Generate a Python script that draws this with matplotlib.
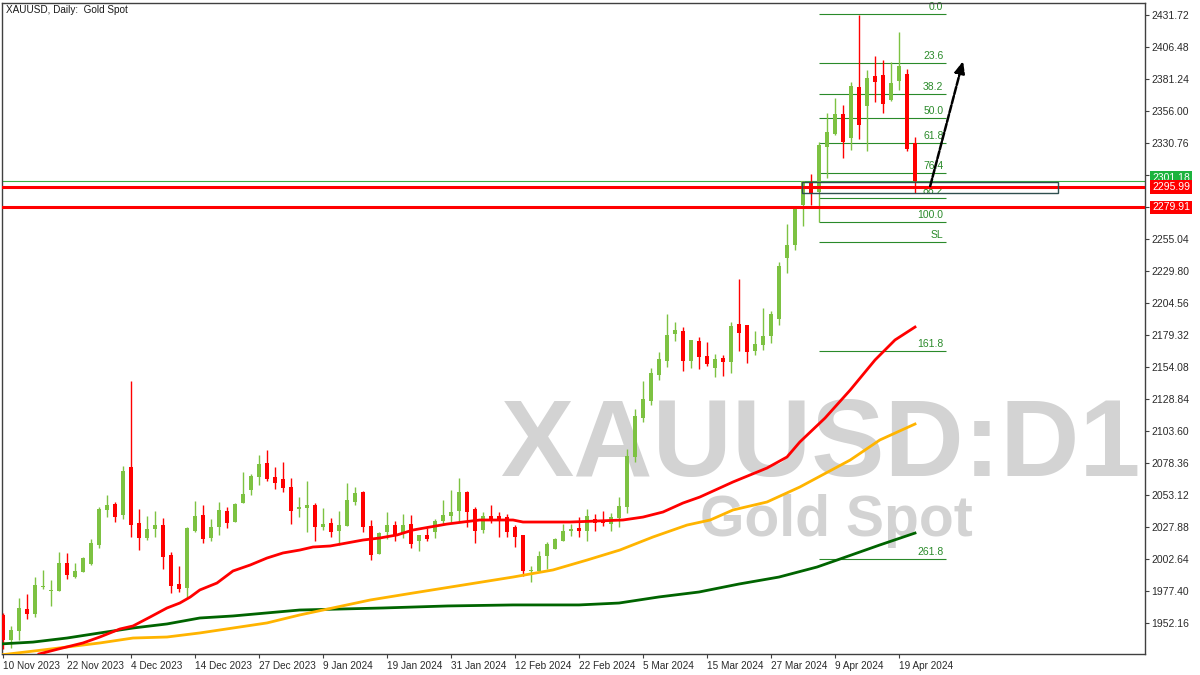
import matplotlib
matplotlib.use("Agg")
import matplotlib.pyplot as plt
from matplotlib.patches import Rectangle

# ---------------- data ----------------
tick_index = [0, 8, 16, 24, 32, 40, 48, 56, 64, 72, 80, 88, 96, 104, 112]
tick_labels = ['10 Nov 2023', '22 Nov 2023', '4 Dec 2023', '14 Dec 2023', '27 Dec 2023',
               '9 Jan 2024', '19 Jan 2024', '31 Jan 2024', '12 Feb 2024', '22 Feb 2024',
               '5 Mar 2024', '15 Mar 2024', '27 Mar 2024', '9 Apr 2024', '19 Apr 2024']

opens = [1958.4, 1938.7, 1945.8, 1963.0, 1959.2, 1980.6, 1977.0, 1977.4, 1999.5, 1988.4,
         1992.4, 1998.7, 2013.7, 2041.3, 2046.1, 2037.3, 2075.2, 2031.0, 2019.2, 2026.3,
         2029.4, 2005.8, 1982.9, 1979.7, 2024.7, 2037.3, 2019.2, 2027.9, 2040.5, 2031.8,
         2046.8, 2057.0, 2067.3, 2078.4, 2067.3, 2065.7, 2059.4, 2042.1, 2042.8, 2045.3,
         2027.9, 2031.0, 2024.7, 2028.7, 2047.6, 2055.5, 2028.7, 2006.6, 2023.9, 2029.4,
         2022.4, 2030.2, 2016.5, 2021.2, 2023.9, 2032.6, 2036.5, 2040.5, 2055.5, 2042.1,
         2025.5, 2036.5, 2036.5, 2035.7, 2027.9, 2021.2, 1992.8, 1993.2, 2005.0, 2010.5,
         2016.8, 2024.7, 2027.1, 2024.7, 2034.1, 2032.6, 2030.2, 2034.9, 2043.6, 2083.1,
         2113.9, 2127.3, 2147.8, 2158.8, 2180.1, 2182.5, 2158.8, 2174.6, 2162.8, 2153.3,
         2161.2, 2158.0, 2188.0, 2187.2, 2166.7, 2171.4, 2178.5, 2191.9, 2240.0, 2250.3,
         2281.9, 2300.0, 2292.1, 2327.6, 2337.9, 2353.6, 2334.7, 2374.9, 2359.9, 2383.6,
         2384.4, 2364.7, 2379.7, 2385.2, 2330.8]
highs = [1960.0, 1949.6, 1971.9, 1975.0, 1988.4, 1994.0, 1986.1, 2008.1, 2007.3, 1999.5,
         2004.2, 2018.4, 2043.7, 2053.2, 2047.6, 2076.0, 2143.0, 2042.1, 2036.5, 2040.5,
         2034.9, 2008.1, 1997.1, 2027.9, 2048.4, 2045.3, 2034.1, 2047.6, 2043.7, 2046.8,
         2071.2, 2069.6, 2084.7, 2088.6, 2075.2, 2079.1, 2066.5, 2051.5, 2064.2, 2046.8,
         2042.8, 2034.9, 2040.5, 2062.6, 2059.4, 2056.3, 2033.4, 2023.9, 2039.7, 2032.6,
         2038.1, 2037.3, 2021.6, 2027.1, 2034.1, 2049.2, 2057.0, 2066.5, 2056.3, 2043.7,
         2039.7, 2045.3, 2039.7, 2038.1, 2029.4, 2021.5, 1997.1, 2009.0, 2016.0, 2019.2,
         2030.2, 2030.2, 2035.7, 2042.1, 2038.1, 2040.5, 2038.9, 2051.5, 2089.4, 2120.9,
         2143.0, 2153.3, 2165.9, 2195.9, 2189.6, 2185.6, 2175.6, 2177.7, 2173.8, 2164.3,
         2163.6, 2189.6, 2223.5, 2187.5, 2182.5, 2200.6, 2198.3, 2236.9, 2266.9, 2280.5,
         2301.0, 2306.3, 2331.5, 2354.4, 2366.3, 2360.7, 2378.9, 2431.7, 2388.3, 2399.4,
         2396.2, 2394.6, 2418.3, 2389.1, 2335.5]
lows = [1932.0, 1932.5, 1938.7, 1955.3, 1956.9, 1979.0, 1965.6, 1977.0, 1986.8, 1988.0,
        1992.0, 1998.0, 2011.3, 2035.7, 2031.8, 2034.1, 2020.0, 2009.7, 2017.6, 2020.0,
        1994.7, 1975.8, 1976.6, 1972.0, 2024.0, 2015.3, 2016.5, 2021.6, 2027.1, 2031.5,
        2046.5, 2053.1, 2061.0, 2064.2, 2057.8, 2055.5, 2030.2, 2035.7, 2023.9, 2016.8,
        2025.5, 2020.0, 2013.7, 2028.5, 2045.3, 2023.9, 2001.9, 2006.3, 2018.4, 2016.5,
        2019.2, 2011.3, 2009.0, 2016.5, 2019.2, 2030.2, 2031.8, 2031.8, 2027.9, 2015.3,
        2023.1, 2031.0, 2020.0, 2020.0, 2012.1, 1989.2, 1984.5, 1993.0, 1994.7, 2010.3,
        2016.5, 2020.8, 2020.0, 2016.5, 2024.7, 2028.7, 2024.7, 2027.9, 2038.9, 2079.1,
        2110.7, 2124.1, 2143.8, 2154.1, 2174.6, 2150.9, 2153.3, 2152.5, 2154.9, 2146.2,
        2147.0, 2149.4, 2166.7, 2157.2, 2163.6, 2167.5, 2173.0, 2187.2, 2228.2, 2246.4,
        2265.3, 2281.9, 2268.2, 2303.2, 2337.1, 2318.9, 2325.2, 2333.9, 2324.4, 2363.1,
        2354.4, 2363.9, 2372.6, 2324.4, 2291.3]
closes = [1938.7, 1946.6, 1964.0, 1959.2, 1982.1, 1981.5, 1978.0, 1999.5, 1990.0, 1993.1,
          2003.4, 2015.3, 2042.1, 2045.3, 2035.7, 2072.0, 2029.4, 2019.2, 2026.3, 2029.4,
          2004.2, 1981.3, 1979.0, 2027.1, 2036.5, 2018.4, 2027.9, 2041.3, 2031.0, 2046.1,
          2053.9, 2068.1, 2077.6, 2065.7, 2062.6, 2058.6, 2040.5, 2043.7, 2045.3, 2027.9,
          2030.2, 2023.9, 2029.4, 2049.2, 2054.7, 2027.9, 2005.8, 2023.1, 2029.4, 2021.6,
          2029.4, 2014.5, 2021.2, 2018.4, 2032.6, 2037.3, 2039.7, 2055.5, 2039.7, 2024.7,
          2036.5, 2034.1, 2034.1, 2023.9, 2020.0, 1993.2, 1993.6, 2005.0, 2014.5, 2018.4,
          2024.7, 2026.3, 2024.7, 2036.5, 2031.0, 2031.0, 2035.7, 2044.4, 2083.9, 2115.4,
          2128.8, 2149.4, 2160.4, 2179.3, 2183.3, 2158.8, 2175.4, 2162.0, 2156.4, 2160.4,
          2158.0, 2186.4, 2180.9, 2165.9, 2172.2, 2178.5, 2195.9, 2233.7, 2250.3, 2280.3,
          2300.8, 2291.3, 2329.2, 2339.4, 2353.6, 2331.6, 2375.7, 2345.0, 2382.0, 2378.9,
          2361.5, 2378.1, 2391.5, 2326.0, 2301.18]

# moving averages (candle index, price)
ma_red_idx = [4.5, 6.9, 10.0, 12.1, 14.6, 16.25, 18.4, 20.5, 22.1, 23.4, 24.6, 26.75, 28.75,
              30.9, 33.0, 35.0, 37.1, 38.75, 40.9, 43.0, 45.0, 47.1, 49.25, 51.25, 53.4,
              55.5, 57.5, 59.6, 63.75, 65.0, 70.9, 77.5, 80.0, 82.5, 85.0, 87.1, 91.25,
              95.5, 98.0, 99.6, 102.75, 105.9, 109.0, 111.5, 114.0]
ma_red_val = [1927.7, 1931.6, 1936.4, 1941.1, 1947.4, 1949.8, 1956.9, 1964.0, 1967.9, 1972.6,
              1978.2, 1983.7, 1993.2, 1997.9, 2003.4, 2007.4, 2009.7, 2012.1, 2012.9, 2015.3,
              2017.6, 2019.2, 2021.6, 2025.5, 2027.9, 2030.2, 2031.8, 2033.4, 2033.4, 2031.8,
              2031.8, 2033.4, 2035.7, 2039.7, 2046.8, 2051.5, 2063.4, 2074.4, 2083.1, 2094.9,
              2113.8, 2135.9, 2159.6, 2175.4, 2185.6]
ma_orange_idx = [-0.4, 5.0, 12.1, 16.25, 20.5, 24.6, 28.75, 33.0, 37.1, 45.9, 51.25, 57.5,
                 63.75, 68.75, 73.0, 77.1, 81.25, 85.5, 88.4, 91.25, 95.5, 99.6, 105.9,
                 109.6, 114.0]
ma_orange_val = [1926.9, 1930.9, 1936.4, 1940.3, 1941.1, 1944.3, 1948.2, 1952.2, 1958.5,
                 1970.3, 1975.8, 1982.1, 1988.4, 1994.0, 2001.8, 2009.7, 2020.0, 2029.4,
                 2033.4, 2041.3, 2047.6, 2059.4, 2080.7, 2096.5, 2109.1]
ma_green_idx = [-0.4, 3.75, 8.0, 12.1, 16.25, 20.5, 24.6, 28.75, 33.0, 37.1, 47.5, 55.6,
                63.75, 72.0, 77.0, 82.0, 87.0, 92.0, 97.0, 101.75, 104.25, 109.6, 114.0]
ma_green_val = [1935.6, 1937.1, 1940.3, 1944.3, 1948.2, 1951.4, 1956.1, 1957.7, 1960.1,
                1962.4, 1964.0, 1965.6, 1966.4, 1966.4, 1967.9, 1972.7, 1976.6, 1982.9,
                1988.4, 1996.3, 2001.8, 2013.7, 2023.1]

# Fibonacci retracement (anchored Apr 5 low -> Apr 12 high)
fib_high = 2432.5
fib_low = 2268.2
fib_levels = [0.0, 23.6, 38.2, 50.0, 61.8, 76.4, 88.2, 100.0, 161.8, 261.8]
fib_labels = ['0.0', '23.6', '38.2', '50.0', '61.8', '76.4', '88.2', '100.0', '161.8', '261.8']
sl_price = 2252.4
fib_start, fib_end = 102, 117.9

support_levels = [2295.99, 2279.91]
bid_price = 2301.18
zone_left, zone_right = 99.9, 131.9
zone_low, zone_high = 2291.5, 2300.2
arrow_from = (115.9, 2296.8)
arrow_to = (120.0, 2395.4)

y_tick_start, y_tick_step, n_yticks = 1952.16, 25.24, 20

# ---------------- figure ----------------
W, H = 1200, 675
fig = plt.figure(figsize=(W / 100, H / 100), dpi=100)
ax = fig.add_axes([2 / W, 21 / H, 1143 / W, 651 / H])
ax.set_xlim(-0.125, 142.75)
ax.set_ylim(1927.7, 2441.2)

FONT = 'Liberation Sans'
frame_col = '#404040'
bull = '#7dc242'
bear = '#ff0000'
fib_col = '#2a8a2a'

# watermark
ax.text(500 / W, 1 - 476 / H, 'XAUUSD:D1', transform=fig.transFigure, fontsize=79,
        fontweight='bold', family=FONT, color='#d3d3d3', ha='left', va='baseline',
        zorder=0.5, clip_on=True)
ax.text(700 / W, 1 - 536 / H, 'Gold Spot', transform=fig.transFigure, fontsize=41,
        fontweight='bold', family=FONT, color='#d3d3d3', ha='left', va='baseline',
        zorder=0.5, clip_on=True)

# candles
idx = list(range(len(opens)))
cols = [bull if c >= o else bear for o, c in zip(opens, closes)]
ax.vlines(idx, lows, highs, colors=cols, lw=1.0, zorder=3)
bottoms = [min(o, c) for o, c in zip(opens, closes)]
heights = [max(abs(c - o), 0.9) for o, c in zip(opens, closes)]
ax.bar(idx, heights, bottom=bottoms, width=0.62, color=cols, lw=0, zorder=3)

# moving averages
ax.plot(ma_green_idx, ma_green_val, color='#006400', lw=2.0, zorder=4)
ax.plot(ma_orange_idx, ma_orange_val, color='#ffb400', lw=2.0, zorder=4)
ax.plot(ma_red_idx, ma_red_val, color='#ff0000', lw=2.0, zorder=4)

# fibonacci
for lvl, lab in zip(fib_levels, fib_labels):
    p = fib_high - (fib_high - fib_low) * lvl / 100.0
    ax.hlines(p, fib_start, fib_end, color=fib_col, lw=0.8, zorder=2)
    ax.annotate(lab, xy=(fib_end - 0.35, p), xytext=(0, 1.5), textcoords='offset points',
                ha='right', va='bottom', fontsize=7.5, family=FONT, color=fib_col, zorder=2)
ax.hlines(sl_price, fib_start, fib_end, color=fib_col, lw=0.8, zorder=2)
ax.annotate('SL', xy=(fib_end - 0.35, sl_price), xytext=(0, 1.5), textcoords='offset points',
            ha='right', va='bottom', fontsize=7.5, family=FONT, color=fib_col, zorder=2)

# horizontal levels
ax.axhline(bid_price, color='#3cb043', lw=0.8, zorder=2)
for lv in support_levels:
    ax.axhline(lv, color='#ff0000', lw=2.2, zorder=5)

# zone rectangle
ax.add_patch(Rectangle((zone_left, zone_low), zone_right - zone_left, zone_high - zone_low,
                       fill=False, edgecolor='#2f4f4f', lw=1.0, zorder=5))

# arrow
ax.annotate('', xy=arrow_to, xytext=arrow_from,
            arrowprops=dict(arrowstyle='-|>,head_length=0.7,head_width=0.3', color='black',
                            lw=1.8, linestyle=(0, (3, 0.8)), shrinkA=0, shrinkB=0),
            zorder=6)

# axes styling
for s in ax.spines.values():
    s.set_color(frame_col)
    s.set_linewidth(1.0)
ax.yaxis.tick_right()
yt = [y_tick_start + k * y_tick_step for k in range(n_yticks)]
ax.set_yticks(yt)
ax.set_yticklabels([f'{v:.2f}' for v in yt])
ax.set_xticks(tick_index)
ax.set_xticklabels(tick_labels, ha='left')
ax.tick_params(axis='both', direction='out', length=3, width=0.8, color=frame_col,
               labelsize=7.5, labelcolor='#2b2b2b', pad=1.5)
ax.tick_params(axis='x', labelsize=7.2, pad=2)
for lab in ax.get_xticklabels() + ax.get_yticklabels():
    lab.set_family(FONT)

# price labels on the axis
def price_tag(price, text, fc):
    ax.annotate(text, xy=(1, price), xycoords=('axes fraction', 'data'), xytext=(5, 0),
                textcoords='offset points', ha='left', va='center', fontsize=7.5,
                family=FONT, color='white', zorder=10, annotation_clip=False,
                bbox=dict(boxstyle='square,pad=0.18', fc=fc, ec='none'))

price_tag(bid_price + 1.8, f'{bid_price:.2f}', '#1db33e')
price_tag(support_levels[0], f'{support_levels[0]:.2f}', '#ff0000')
price_tag(support_levels[1], f'{support_levels[1]:.2f}', '#ff0000')

# title
ax.text(6 / W, 1 - 10 / H, 'XAUUSD, Daily:  Gold Spot', transform=fig.transFigure,
        fontsize=7.2, family=FONT, color='#1a1a1a', ha='left', va='center', zorder=10)

fig.savefig('out.png', dpi=100, facecolor='white')
